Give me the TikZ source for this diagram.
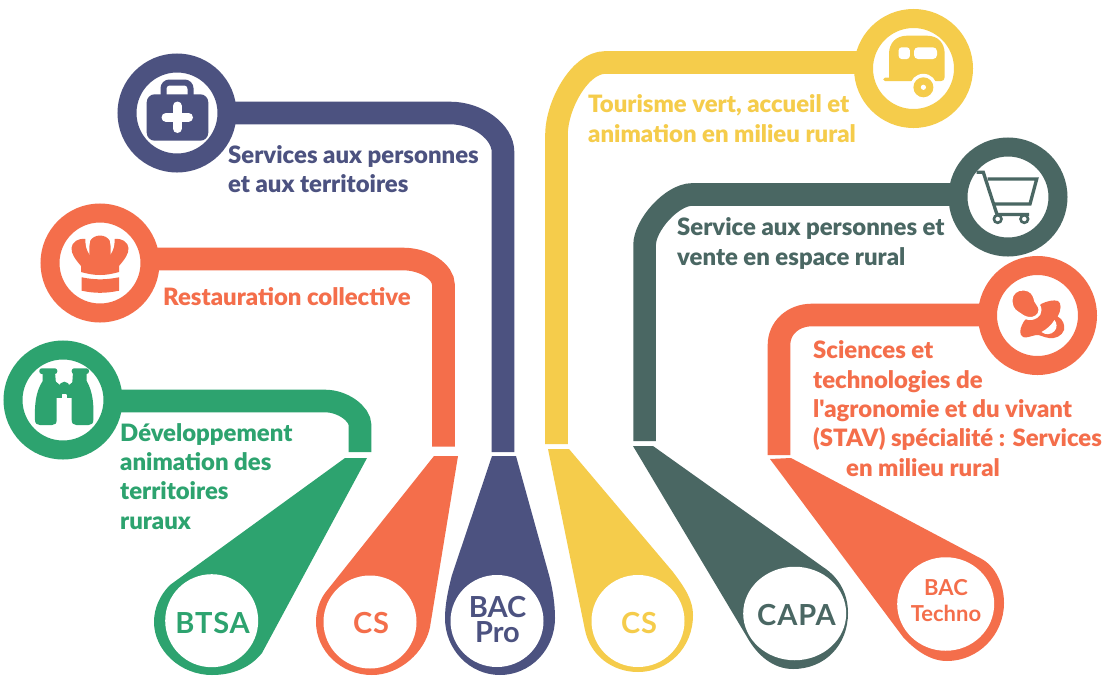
\documentclass[tikz,border=0pt]{standalone}
\usepackage{fontspec}
\setmainfont{Lato}
\usetikzlibrary{backgrounds,shapes.geometric}
\definecolor{cblue}{HTML}{4C5280}
\definecolor{corange}{HTML}{F46E4B}
\definecolor{cgreen}{HTML}{2DA36F}
\definecolor{cyellow}{HTML}{F5CC4B}
\definecolor{cdark}{HTML}{4A6763}
\newfontfamily\labelfont[LetterSpace=3]{Lato}
\newfontfamily\capfont[BoldFont=Lato Black]{Lato}
\tikzset{
  ring/.style={circle,draw=#1,fill=white,line width=19pt,minimum size=100pt,inner sep=0pt,outer sep=0pt},
  conn/.style={draw=#1,line width=22.6pt,line cap=butt},
  funnel/.style={fill=#1},
  badge/.style={ellipse,fill=white,draw=none,inner sep=0pt,outer sep=0pt},
  caption/.style={text=#1,font=\capfont\fontsize{23.9}{29.3}\selectfont\bfseries,align=left,anchor=base west,inner sep=0pt},
  blab/.style={text=#1,font=\fontsize{29}{25}\selectfont\bfseries,align=center,anchor=base,inner sep=0pt},
  slab/.style={text=#1,font=\fontsize{22}{26}\selectfont\bfseries,align=center,anchor=base,inner sep=0pt}
}
\begin{document}
\begin{tikzpicture}[x=1pt,y=-1pt]
\useasboundingbox (0,0) rectangle (1106,675);
% rings
\node[ring=cblue]   (bag)  at (177,113) {};
\node[ring=corange] (chef) at (100,263) {};
\node[ring=cgreen]  (bino) at (63,400) {};
\node[ring=cyellow] (cara) at (913.5,68.5) {};
\node[ring=cdark]   (cart) at (1008,197) {};
\node[ring=corange] (paci) at (1037.5,315.5) {};
% funnels
\fill[funnel=cgreen] (345,458)--(367,458)--(262,653) .. controls (250,668) and (232,675) .. (212,675) .. controls (180,675) and (154,650) .. (154,622) .. controls (154,608) and (160,595) .. (170,585) -- cycle;
\fill[funnel=corange] (434,456)--(458,456)--(430,627) .. controls (425,652) and (400,675) .. (372,675) .. controls (340,675) and (316,650) .. (316,622) .. controls (316,610) and (320,600) .. (325,593) -- cycle;
\fill[funnel=cblue] (492,456)--(516,456)--(549,575) .. controls (553,590) and (555,605) .. (555,618) .. controls (555,650) and (530,675) .. (500,675) .. controls (470,675) and (445,650) .. (445,618) .. controls (445,605) and (448,590) .. (452,575) -- cycle;
\fill[funnel=cyellow] (548,449)--(569,449)--(673,572) .. controls (685,588) and (693,600) .. (693,615) .. controls (693,648) and (668,672) .. (638,672) .. controls (612,672) and (590,655) .. (585,630) -- cycle;
\fill[funnel=cdark] (633,446)--(653,446)--(823,567) .. controls (840,578) and (848,595) .. (848,613) .. controls (848,645) and (825,669) .. (793,669) .. controls (773,669) and (757,655) .. (747,637) -- cycle;
\fill[funnel=corange] (770,459)--(791,458)--(980,558) .. controls (996,566) and (1004,585) .. (1004,603) .. controls (1004,635) and (978,661) .. (947,661) .. controls (930,661) and (915,650) .. (903,637) -- cycle;
% badges
\node[badge,minimum width=93pt,minimum height=93pt] (bBTSA) at (211.7,620.7) {};
\node[badge,minimum width=93pt,minimum height=93pt] (bCSo) at (370,622) {};
\node[badge,minimum width=93pt,minimum height=92pt] (bPro) at (497,621) {};
\node[badge,minimum width=93pt,minimum height=92pt] (bCSy) at (638,621) {};
\node[badge,minimum width=103pt,minimum height=93.5pt] (bCAPA) at (794.7,613.5) {};
\node[badge,minimum width=97pt,minimum height=93.5pt] (bTech) at (945.7,604) {};
% connector free ends
\coordinate (eBlue) at (503,452);
\coordinate (eOr) at (443.5,446.7);
\coordinate (eGr) at (360,452);
\coordinate (eYe) at (556.5,444);
\coordinate (eDa) at (644.6,441);
\coordinate (eRe) at (779,455);
\begin{scope}[on background layer]
\fill[white] (0,0) rectangle (1106,675);
\draw[conn=cblue] (bag.center) -- (450,113) .. controls (478,113) and (503,132) .. (503,152) -- (eBlue);
\draw[conn=corange] ([yshift=4pt]chef.center) -- (403,259) .. controls (425,259) and (443.5,272) .. (443.5,285) -- (eOr);
\draw[conn=cgreen] ([yshift=-1pt]bino.center) -- (325,401) .. controls (343,401) and (360,414) .. (360,425) -- (eGr);
\draw[conn=cyellow] ([yshift=6pt]cara.center) -- (605,62.5) .. controls (580,62.5) and (556.5,105) .. (556.5,135) -- (eYe);
\draw[conn=cdark] ([yshift=2.5pt]cart.center) -- (692,194.5) .. controls (672,194.5) and (644.6,225) .. (644.6,245) -- (eDa);
\draw[conn=corange] ([yshift=0.5pt]paci.center) -- (812,315) .. controls (793,315) and (779,328) .. (779,345) -- (eRe);
\end{scope}
% captions
\node[caption=cblue] (t1) at (228,192.7) {Services aux personnes\\et aux territoires};
\node[caption=corange] (t2) at (163,305) {Restauration collective};
\node[caption=cgreen] (t3) at (120,529) {Développement\\animation des\\territoires\\ruraux};
\node[caption=cyellow] (t4) at (588,142) {Tourisme vert, accueil et\\animation en milieu rural};
\node[caption=cdark] (t5) at (677,265) {Service aux personnes et\\vente en espace rural};
\node[caption=corange] (t6) at (813,476) {Sciences et\\technologies de\\l'agronomie et du vivant\\(STAV) spécialité : Services\\\hspace*{33pt}en milieu rural};
% badge labels
\node[blab=cgreen] (l1) at (212.5,633) {\labelfont\bfseries BTSA};
\node[blab=corange] (l2) at (371,633) {\labelfont\bfseries CS};
\node[blab=cblue] (l3) at (497.5,642) {BAC\\Pro};
\node[blab=cyellow] (l4) at (639,633) {\labelfont\bfseries CS};
\node[blab=cdark] (l5) at (796.5,625) {\labelfont\bfseries CAPA};
\node[slab=corange] (l6) at (946,621) {BAC\\Techno};
% bag icon
\draw[cblue,line width=6pt,rounded corners=6pt] (163.5,97)--(163.5,82.5)--(190.5,82.5)--(190.5,97);
\fill[cblue,rounded corners=8pt] (146.7,94.3) rectangle (208.3,140.7);
\draw[white,line width=9pt,line cap=round] (177.3,106)--(177.3,128.5) (166,117.3)--(188.5,117.3);
% chef icon
\fill[corange] (81,272)--(81,266) .. controls (76,260) and (71,254) .. (71.5,248) .. controls (72,242) and (78,238) .. (85.5,239) -- (90,241) .. controls (92,237.5) and (96,235.5) .. (100,235.5) .. controls (104,235.5) and (108,237.5) .. (110,241) -- (114.5,239) .. controls (122,238) and (128,242) .. (128.5,248) .. controls (129,254) and (124,260) .. (119,266) -- (119,272) .. controls (105,276) and (95,276) .. (81,272) -- cycle;
\fill[white] (85.5,238) .. controls (85,245) and (86.5,250) .. (89.5,254.5) .. controls (89,248) and (89.5,243) .. (90.7,238) -- cycle;
\fill[white] (114.5,238) .. controls (115,245) and (113.5,250) .. (110.5,254.5) .. controls (111,248) and (110.5,243) .. (109.3,238) -- cycle;
\fill[corange] (81.7,277.3) .. controls (95,280) and (105,280) .. (119,277.3) -- (119,290.7) .. controls (105,293.5) and (95,293.5) .. (81.7,290.7) -- cycle;
% binoculars icon
\fill[cgreen,rounded corners=2.5pt] (39.3,368.3) rectangle (57.3,374);
\fill[cgreen,rounded corners=2.5pt] (71.7,368.3) rectangle (89,374);
\fill[cgreen] (42.7,372)--(55,372)--(56.7,392)--(56.7,420) .. controls (56.7,423.5) and (55,425) .. (52,425)--(40,425) .. controls (37,425) and (35,423.5) .. (35,420) .. controls (34.5,405) and (35.5,392) .. (42.7,381) -- cycle;
\fill[cgreen] (73,372)--(86.7,372)--(86.7,381) .. controls (93,392) and (94,405) .. (93.3,420) .. controls (93.3,423.5) and (91.5,425) .. (88.5,425)--(76.5,425) .. controls (73.5,425) and (71.7,423.5) .. (71.7,420)--(71.7,392) -- cycle;
\fill[cgreen] (55,381)--(60,385)--(69,385)--(74,381)--(74,395)--(55,395) -- cycle;
\fill[cgreen] (64.4,387) circle (5.3pt);
\fill[white,rounded corners=1pt] (61.5,394) rectangle (67,400);
\fill[cgreen] (56,394) rectangle (61.5,398);
\fill[cgreen] (67,394) rectangle (72,398);
% caravan icon
\fill[cyellow] (889,78)--(889,54) .. controls (889,43) and (896,35.7) .. (907,35.7)--(927,35.7) .. controls (938,35.7) and (944.7,43) .. (944.7,54)--(944.7,77) .. controls (944.7,80) and (943,81) .. (941,81)--(885,81) .. controls (882.5,81) and (882.5,77.7) .. (885,77.7)--(889,77.7) -- cycle;
\fill[white,rounded corners=3pt] (898.7,47.3) rectangle (909.8,59);
\fill[white,rounded corners=4pt] (914,47.3) rectangle (937,59);
\fill[white] (923.4,87.3) circle (13.5pt);
\fill[cyellow] (923.4,87.3) circle (10pt);
\fill[white] (923.4,87.3) circle (2.6pt);
% cart icon
\draw[cdark,line width=3.3pt,line join=miter] (976.7,172.3)--(983.3,172.3)--(997,214.5)--(1029,214.5);
\draw[cdark,line width=3.3pt] (987.7,179)--(1036.7,179)--(1030,204)--(993.7,204);
\draw[cdark,line width=2.6pt,fill=white] (997.7,219) circle (3.8pt) (1024.3,219) circle (3.8pt);
% pacifier icon
\fill[corange] (1041,304) .. controls (1047,301) and (1054,299.5) .. (1058,301) .. controls (1061.5,303) and (1061.5,310) .. (1057.5,316.5) .. controls (1063,319) and (1065,325) .. (1064,330) .. controls (1062,336) and (1055,339) .. (1049,338) .. controls (1044,337.5) and (1040,334.5) .. (1036,335) .. controls (1031,336) and (1026,338.5) .. (1023,337) .. controls (1019,335) and (1020,329) .. (1022,325) .. controls (1024,320) and (1028,316) .. (1033,315) -- cycle;
\fill[white] (1041.5,332) .. controls (1047,329) and (1051,325.5) .. (1054.5,320) .. controls (1057,323) and (1057.5,328) .. (1054.5,331) .. controls (1051,335) and (1045,335) .. (1041.5,332) -- cycle;
\filldraw[corange,draw=white,line width=3pt] (1011,300) .. controls (1011,293) and (1017,288.5) .. (1024,289) .. controls (1031,289.5) and (1034.5,294) .. (1035.7,301) .. controls (1037,304) and (1040,306) .. (1040,310) .. controls (1040,316) and (1034,319) .. (1029,318.5) .. controls (1024,318) and (1021,315) .. (1017,312.5) .. controls (1013,310) and (1011,306) .. (1011,300) -- cycle;
\end{tikzpicture}
\end{document}
